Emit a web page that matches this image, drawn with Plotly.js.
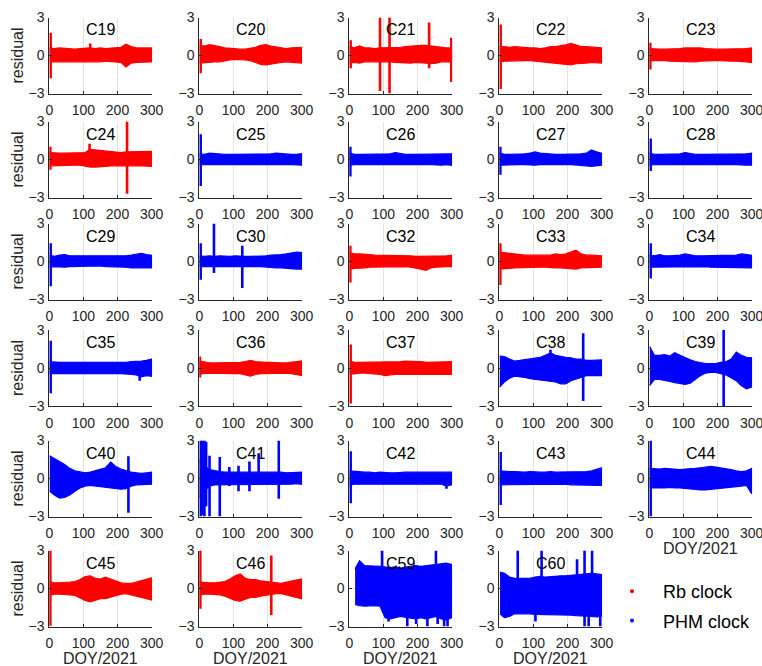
<!DOCTYPE html>
<html><head><meta charset="utf-8">
<script src="https://cdn.plot.ly/plotly-3.0.1.min.js"></script>
<style>html,body{margin:0;padding:0;background:#fff}#chart{width:762px;height:666px}</style>
</head><body><div id="chart"></div>
<script>
// ---------------- DATA ----------------
const doyGrid = [0,15,30,45,60,75,90,105,120,135,150,165,180,195,210,225,240,255,270,285,300];
const satNames = ['C19','C20','C21','C22','C23','C24','C25','C26','C27','C28','C29','C30','C32','C33','C34',
                  'C35','C36','C37','C38','C39','C40','C41','C42','C43','C44','C45','C46','C59','C60'];
const clockType = ['Rb','Rb','Rb','Rb','Rb','Rb','PHM','PHM','PHM','PHM','PHM','PHM','Rb','Rb','PHM',
                   'PHM','Rb','Rb','PHM','PHM','PHM','PHM','PHM','PHM','PHM','Rb','Rb','PHM','PHM'];
const dataStart = [1,1,1,1,1,1,1,1,1,1,1,1,1,1,1, 1,1,1,1,1,1,1,1,1,1,1,1,17,2];

// residual envelope (upper / lower) at doyGrid, and spikes [doy, low, high]
const hi_C19=[0.6,0.55,0.6,0.55,0.55,0.5,0.55,0.6,0.6,0.55,0.6,0.55,0.6,0.6,0.65,0.9,0.7,0.6,0.6,0.55,0.6];
const lo_C19=[-0.5,-0.5,-0.5,-0.5,-0.45,-0.5,-0.5,-0.5,-0.5,-0.5,-0.5,-0.45,-0.5,-0.5,-0.55,-0.9,-0.6,-0.55,-0.5,-0.5,-0.5];
const spk_C19=[[4,-1.8,1.8],[120,0,0.95]];

const hi_C20=[0.8,0.75,0.85,0.8,0.7,0.6,0.55,0.5,0.5,0.5,0.55,0.65,0.8,0.85,0.75,0.7,0.6,0.55,0.6,0.6,0.65];
const lo_C20=[-0.6,-0.55,-0.55,-0.5,-0.5,-0.45,-0.35,-0.3,-0.3,-0.35,-0.4,-0.55,-0.7,-0.75,-0.65,-0.6,-0.55,-0.5,-0.5,-0.55,-0.6];
const spk_C20=[[4,-1.4,1.3]];

const hi_C21=[0.7,0.6,0.75,0.6,0.6,0.55,0.6,0.6,0.6,0.6,0.65,0.7,0.75,0.8,0.8,0.8,0.75,0.65,0.6,0.6,0.6];
const lo_C21=[-0.6,-0.55,-0.6,-0.5,-0.5,-0.5,-0.5,-0.5,-0.5,-0.55,-0.55,-0.6,-0.6,-0.55,-0.55,-0.6,-0.65,-0.6,-0.5,-0.5,-0.5];
const spk_C21=[[4,-1.0,1.2],[90,-2.8,3],[118,-3,3],[234,-1.0,2.6],[299,-2.1,1.4]];

const hi_C22=[0.75,0.7,0.65,0.7,0.65,0.6,0.6,0.6,0.55,0.6,0.7,0.7,0.75,0.85,0.95,0.8,0.7,0.7,0.65,0.65,0.6];
const lo_C22=[-0.5,-0.45,-0.45,-0.45,-0.4,-0.4,-0.4,-0.4,-0.45,-0.5,-0.6,-0.65,-0.7,-0.7,-0.75,-0.65,-0.6,-0.6,-0.55,-0.55,-0.6];
const spk_C22=[[4,-2.65,2.45]];

const hi_C23=[0.55,0.5,0.5,0.5,0.5,0.5,0.55,0.6,0.6,0.65,0.6,0.55,0.5,0.5,0.5,0.5,0.5,0.5,0.55,0.55,0.6];
const lo_C23=[-0.4,-0.4,-0.4,-0.4,-0.45,-0.45,-0.45,-0.5,-0.5,-0.5,-0.45,-0.45,-0.4,-0.4,-0.4,-0.4,-0.45,-0.45,-0.45,-0.5,-0.55];
const spk_C23=[[3,-1.1,1.0]];

const hi_C24=[0.55,0.5,0.5,0.5,0.5,0.5,0.55,0.55,0.8,0.75,0.75,0.7,0.6,0.55,0.55,0.6,0.6,0.6,0.6,0.6,0.65];
const lo_C24=[-0.5,-0.45,-0.45,-0.45,-0.45,-0.45,-0.45,-0.5,-0.6,-0.6,-0.6,-0.55,-0.5,-0.45,-0.5,-0.5,-0.5,-0.5,-0.5,-0.5,-0.55];
const spk_C24=[[3,-0.8,1.0],[118,0,1.25],[228,-2.7,3]];

const hi_C25=[0.45,0.4,0.5,0.45,0.4,0.4,0.4,0.4,0.4,0.4,0.45,0.4,0.4,0.4,0.45,0.5,0.45,0.4,0.4,0.4,0.45];
const lo_C25=[-0.4,-0.4,-0.4,-0.4,-0.35,-0.35,-0.4,-0.35,-0.4,-0.4,-0.4,-0.35,-0.4,-0.35,-0.35,-0.4,-0.4,-0.4,-0.4,-0.4,-0.45];
const spk_C25=[[4,-2.1,2.0]];

const hi_C26=[0.5,0.4,0.4,0.4,0.4,0.4,0.4,0.4,0.45,0.55,0.45,0.4,0.4,0.4,0.4,0.4,0.4,0.4,0.4,0.4,0.45];
const lo_C26=[-0.45,-0.4,-0.4,-0.4,-0.4,-0.35,-0.4,-0.4,-0.4,-0.4,-0.4,-0.35,-0.4,-0.4,-0.4,-0.4,-0.4,-0.4,-0.45,-0.4,-0.45];
const spk_C26=[[3,-1.35,1.0]];

const hi_C27=[0.5,0.4,0.4,0.4,0.45,0.45,0.5,0.6,0.5,0.45,0.4,0.4,0.4,0.4,0.4,0.45,0.45,0.5,0.75,0.6,0.5];
const lo_C27=[-0.45,-0.4,-0.4,-0.4,-0.4,-0.4,-0.4,-0.45,-0.4,-0.4,-0.35,-0.35,-0.4,-0.4,-0.4,-0.4,-0.45,-0.5,-0.55,-0.5,-0.45];
const spk_C27=[[3,-1.2,1.0]];

const hi_C28=[0.5,0.4,0.4,0.4,0.4,0.4,0.45,0.55,0.45,0.4,0.4,0.4,0.4,0.4,0.4,0.45,0.45,0.45,0.45,0.45,0.5];
const lo_C28=[-0.45,-0.4,-0.35,-0.35,-0.4,-0.35,-0.4,-0.4,-0.4,-0.4,-0.4,-0.35,-0.4,-0.4,-0.4,-0.4,-0.4,-0.4,-0.4,-0.45,-0.45];
const spk_C28=[[4,-0.9,1.65]];

const hi_C29=[0.5,0.4,0.5,0.55,0.45,0.45,0.45,0.45,0.4,0.4,0.4,0.4,0.45,0.45,0.45,0.45,0.5,0.6,0.65,0.55,0.5];
const lo_C29=[-0.45,-0.4,-0.4,-0.45,-0.4,-0.4,-0.4,-0.4,-0.35,-0.35,-0.35,-0.4,-0.4,-0.4,-0.45,-0.45,-0.5,-0.55,-0.55,-0.5,-0.5];
const spk_C29=[[4,-1.95,1.45]];

const hi_C30=[0.45,0.4,0.45,0.4,0.45,0.4,0.4,0.45,0.4,0.4,0.4,0.4,0.45,0.45,0.5,0.5,0.55,0.6,0.65,0.75,0.7];
const lo_C30=[-0.4,-0.4,-0.4,-0.4,-0.4,-0.35,-0.35,-0.4,-0.4,-0.4,-0.4,-0.4,-0.4,-0.45,-0.45,-0.5,-0.5,-0.55,-0.55,-0.6,-0.6];
const spk_C30=[[4,-1.45,1.45],[43,-0.9,3],[126,-2.1,1.25]];

const hi_C32=[0.7,0.6,0.6,0.6,0.55,0.5,0.5,0.5,0.5,0.5,0.5,0.5,0.45,0.4,0.4,0.45,0.4,0.4,0.4,0.45,0.5];
const lo_C32=[-0.6,-0.55,-0.5,-0.5,-0.45,-0.45,-0.45,-0.45,-0.45,-0.4,-0.4,-0.4,-0.45,-0.5,-0.6,-0.7,-0.5,-0.45,-0.4,-0.4,-0.4];
const spk_C32=[[3,-1.65,1.25]];

const hi_C33=[0.75,0.7,0.6,0.6,0.55,0.5,0.5,0.5,0.5,0.5,0.5,0.6,0.55,0.6,0.75,0.9,0.6,0.5,0.5,0.45,0.45];
const lo_C33=[-0.6,-0.6,-0.55,-0.5,-0.5,-0.5,-0.45,-0.45,-0.45,-0.45,-0.45,-0.5,-0.5,-0.5,-0.55,-0.6,-0.5,-0.45,-0.45,-0.45,-0.45];
const spk_C33=[[3,-1.85,1.45]];

const hi_C34=[0.5,0.45,0.55,0.45,0.45,0.45,0.5,0.6,0.5,0.45,0.45,0.45,0.5,0.5,0.45,0.45,0.45,0.5,0.6,0.55,0.5];
const lo_C34=[-0.45,-0.4,-0.4,-0.45,-0.4,-0.4,-0.4,-0.45,-0.45,-0.4,-0.4,-0.4,-0.45,-0.45,-0.45,-0.45,-0.45,-0.45,-0.5,-0.5,-0.5];
const spk_C34=[[4,-1.35,1.45]];

const hi_C35=[0.5,0.45,0.45,0.45,0.45,0.45,0.45,0.45,0.4,0.4,0.45,0.45,0.45,0.45,0.45,0.45,0.5,0.5,0.55,0.6,0.7];
const lo_C35=[-0.45,-0.45,-0.45,-0.4,-0.4,-0.45,-0.45,-0.4,-0.4,-0.4,-0.45,-0.45,-0.45,-0.45,-0.45,-0.45,-0.5,-0.55,-0.7,-0.6,-0.65];
const spk_C35=[[4,-2.0,2.15],[265,-1.0,0]];

const hi_C36=[0.55,0.45,0.4,0.4,0.4,0.4,0.45,0.4,0.45,0.5,0.6,0.5,0.45,0.45,0.45,0.4,0.4,0.4,0.45,0.45,0.55];
const lo_C36=[-0.5,-0.4,-0.4,-0.4,-0.4,-0.4,-0.45,-0.45,-0.45,-0.55,-0.65,-0.5,-0.45,-0.45,-0.4,-0.4,-0.4,-0.4,-0.45,-0.5,-0.6];
const spk_C36=[[2,-0.75,0.9]];

const hi_C37=[0.55,0.45,0.45,0.45,0.45,0.45,0.45,0.45,0.45,0.5,0.5,0.55,0.55,0.5,0.5,0.45,0.45,0.45,0.45,0.45,0.5];
const lo_C37=[-0.5,-0.45,-0.4,-0.4,-0.45,-0.45,-0.5,-0.6,-0.55,-0.5,-0.5,-0.5,-0.45,-0.45,-0.45,-0.45,-0.45,-0.45,-0.45,-0.5,-0.5];
const spk_C37=[[4,-2.8,1.85]];

const hi_C38=[0.95,0.9,0.7,0.55,0.6,0.65,0.75,0.8,0.85,1.0,1.2,1.0,0.9,0.85,0.8,0.7,0.7,0.6,0.6,0.65,0.65];
const lo_C38=[-1.5,-1.1,-0.8,-0.65,-0.7,-0.75,-0.85,-0.95,-1.0,-1.0,-1.05,-1.1,-1.25,-1.25,-1.0,-0.85,-0.75,-0.6,-0.6,-0.6,-0.6];
const spk_C38=[[150,0,1.45],[246,-2.6,2.75]];

const hi_C39=[1.7,1.0,1.0,1.05,0.95,1.2,1.0,0.8,0.65,0.5,0.4,0.35,0.35,0.35,0.45,0.5,0.7,1.25,1.0,0.85,0.8];
const lo_C39=[-1.4,-0.9,-0.9,-0.95,-1.05,-1.15,-1.25,-1.3,-1.2,-0.9,-0.6,-0.4,-0.35,-0.35,-0.45,-0.55,-0.8,-1.0,-1.4,-1.65,-1.5];
const spk_C39=[[218,-3,3]];

const hi_C40=[1.8,1.6,1.35,1.1,0.8,0.6,0.5,0.45,0.5,0.6,0.7,0.85,1.3,0.95,0.75,0.6,0.5,0.45,0.4,0.45,0.5];
const lo_C40=[-1.0,-1.3,-1.55,-1.5,-1.3,-1.0,-0.75,-0.6,-0.55,-0.6,-0.65,-0.7,-0.75,-0.8,-0.85,-0.8,-0.6,-0.5,-0.45,-0.45,-0.45];
const spk_C40=[[232,-2.7,1.75]];

const hi_C41=[1.5,1.0,0.7,0.6,0.55,0.5,0.5,0.5,0.5,0.5,0.55,0.5,0.5,0.5,0.5,0.5,0.5,0.45,0.45,0.45,0.5];
const lo_C41=[-1.5,-1.0,-0.6,-0.5,-0.5,-0.45,-0.45,-0.45,-0.45,-0.45,-0.5,-0.45,-0.45,-0.45,-0.45,-0.45,-0.45,-0.45,-0.45,-0.4,-0.45];
const spk_C41=[[4,-3,3],[9,-2.9,3],[15,-3,3],[20,-2.2,2.9],[30,-3,1.8],[60,-3,1.7],[88,-0.6,0.9],[115,-1.0,1.0],[147,-1.0,1.35],[174,-0.5,2.0],[233,-1.6,3]];

const hi_C42=[0.6,0.55,0.55,0.5,0.5,0.45,0.5,0.45,0.45,0.45,0.5,0.5,0.5,0.5,0.45,0.45,0.45,0.45,0.5,0.45,0.5];
const lo_C42=[-0.5,-0.45,-0.4,-0.4,-0.4,-0.4,-0.4,-0.4,-0.45,-0.45,-0.45,-0.4,-0.4,-0.4,-0.4,-0.45,-0.4,-0.45,-0.45,-0.6,-0.5];
const spk_C42=[[4,-1.95,2.15],[285,-0.8,0]];

const hi_C43=[0.6,0.55,0.55,0.55,0.5,0.5,0.55,0.5,0.5,0.5,0.55,0.5,0.5,0.5,0.5,0.5,0.5,0.55,0.6,0.75,0.85];
const lo_C43=[-0.5,-0.45,-0.45,-0.45,-0.45,-0.45,-0.45,-0.45,-0.45,-0.5,-0.5,-0.45,-0.45,-0.45,-0.5,-0.5,-0.5,-0.5,-0.55,-0.55,-0.55];
const spk_C43=[[4,-2.1,2.1]];

const hi_C44=[0.8,0.75,0.75,0.8,0.75,0.7,0.7,0.75,0.75,0.8,0.85,0.9,0.95,0.9,0.85,0.75,0.7,0.6,0.55,0.6,0.8];
const lo_C44=[-0.75,-0.7,-0.75,-0.75,-0.7,-0.75,-0.75,-0.75,-0.8,-0.85,-0.9,-0.9,-0.9,-0.85,-0.8,-0.75,-0.7,-0.65,-0.6,-0.55,-1.2];
const spk_C44=[[4,-3,3]];

const hi_C45=[0.55,0.45,0.45,0.45,0.5,0.55,0.7,0.95,1.0,0.8,0.75,0.9,0.75,0.6,0.45,0.4,0.4,0.5,0.6,0.7,0.85];
const lo_C45=[-0.55,-0.45,-0.45,-0.45,-0.5,-0.55,-0.75,-0.95,-1.05,-0.9,-0.8,-0.8,-0.7,-0.55,-0.45,-0.4,-0.45,-0.55,-0.7,-0.8,-0.9];
const spk_C45=[[3,-2.95,3]];

const hi_C46=[0.5,0.45,0.45,0.45,0.5,0.55,0.75,1.0,1.15,0.8,0.7,0.7,0.6,0.55,0.45,0.4,0.4,0.5,0.6,0.7,0.75];
const lo_C46=[-0.5,-0.45,-0.45,-0.45,-0.5,-0.6,-0.75,-0.95,-1.0,-0.85,-0.7,-0.7,-0.6,-0.55,-0.45,-0.4,-0.4,-0.5,-0.6,-0.7,-0.8];
const spk_C46=[[3,-1.6,3],[211,-2.1,2.6]];

const hi_C59=[null,1.55,2.2,1.8,1.8,1.8,1.75,1.7,1.65,1.7,1.6,1.7,1.75,1.8,1.75,1.8,1.85,1.9,2.0,2.0,1.9];
const lo_C59=[null,-1.25,-1.35,-1.4,-1.4,-1.35,-1.4,-2.3,-2.4,-2.3,-2.2,-2.3,-2.35,-2.4,-2.3,-2.4,-2.3,-2.2,-2.4,-2.5,-2.3];
const spk_C59=[[96,0,3],[115,-2.6,0],[170,-3,0],[196,-2.8,0],[229,-3,0],[254,0,3],[259,-2.8,0],[278,-3,0],[288,-3,0]];

const hi_C60=[1.3,1.2,0.9,0.8,0.8,0.8,0.8,0.9,0.95,0.9,0.95,0.95,1.0,1.0,1.05,1.1,1.1,1.15,1.2,1.15,1.1];
const lo_C60=[-2.0,-2.3,-2.2,-2.0,-1.95,-2.0,-2.0,-2.05,-2.05,-2.05,-2.1,-2.05,-2.05,-2.1,-2.1,-2.15,-2.2,-2.2,-2.2,-2.25,-2.2];
const spk_C60=[[54,0,3],[106,-2.6,0],[124,0,3],[228,0,2.3],[250,-3,3],[262,-3,0],[272,0,3],[296,-3,0]];

const xTicks = [0,100,200,300];
const yTicks = [-3,0,3];
const xLabel = 'DOY/2021';
const yLabel = 'residual';
const legendNames = {Rb:'Rb clock', PHM:'PHM clock'};

const hiList=[hi_C19,hi_C20,hi_C21,hi_C22,hi_C23,hi_C24,hi_C25,hi_C26,hi_C27,hi_C28,hi_C29,hi_C30,hi_C32,hi_C33,hi_C34,
              hi_C35,hi_C36,hi_C37,hi_C38,hi_C39,hi_C40,hi_C41,hi_C42,hi_C43,hi_C44,hi_C45,hi_C46,hi_C59,hi_C60];
const loList=[lo_C19,lo_C20,lo_C21,lo_C22,lo_C23,lo_C24,lo_C25,lo_C26,lo_C27,lo_C28,lo_C29,lo_C30,lo_C32,lo_C33,lo_C34,
              lo_C35,lo_C36,lo_C37,lo_C38,lo_C39,lo_C40,lo_C41,lo_C42,lo_C43,lo_C44,lo_C45,lo_C46,lo_C59,lo_C60];
const spkList=[spk_C19,spk_C20,spk_C21,spk_C22,spk_C23,spk_C24,spk_C25,spk_C26,spk_C27,spk_C28,spk_C29,spk_C30,spk_C32,spk_C33,spk_C34,
               spk_C35,spk_C36,spk_C37,spk_C38,spk_C39,spk_C40,spk_C41,spk_C42,spk_C43,spk_C44,spk_C45,spk_C46,spk_C59,spk_C60];

// ---------------- LAYOUT / STYLE ----------------
const W = 762, H = 666;
const colX0 = [49.3, 199.3, 349.3, 499.3, 649.3];
const plotW = 103;
const rowTop = [17.5, 121.5, 223.5, 330, 440.5, 550.5];
const plotH = 76;
const colors = {Rb:'#ff0000', PHM:'#0000ff'};
const FONT = 'Liberation Sans, Arial, sans-serif';
const ink = '#262626';

const data = [];
const layout = {
  width: W, height: H,
  margin: {l:0, r:0, t:0, b:0},
  paper_bgcolor: '#ffffff', plot_bgcolor: '#ffffff',
  font: {family: FONT, size: 14, color: ink},
  showlegend: true,
  legend: {x: 601/W, y: 1 - 573/H, xanchor:'left', yanchor:'top',
           font:{size:18, color:'#000', family: FONT}, bgcolor:'rgba(0,0,0,0)',
           itemwidth: 52, tracegroupgap: 3},
  annotations: []
};

satNames.forEach((name, i) => {
  const r = Math.floor(i/5), c = i % 5;
  const xa = i === 0 ? 'x' : 'x' + (i+1);
  const ya = i === 0 ? 'y' : 'y' + (i+1);
  const xk = i === 0 ? 'xaxis' : 'xaxis' + (i+1);
  const yk = i === 0 ? 'yaxis' : 'yaxis' + (i+1);
  const col = colors[clockType[i]];
  const hi = hiList[i], lo = loList[i];
  const xs = [], ys = [];
  for (let k = 0; k < doyGrid.length; k++) {
    if (hi[k] !== null) { xs.push(Math.max(doyGrid[k], dataStart[i])); ys.push(hi[k]); }
  }
  for (let k = doyGrid.length - 1; k >= 0; k--) {
    if (lo[k] !== null) { xs.push(Math.max(doyGrid[k], dataStart[i])); ys.push(lo[k]); }
  }
  data.push({type:'scatter', mode:'lines', x: xs, y: ys, xaxis: xa, yaxis: ya,
             fill:'toself', fillcolor: col, line:{color: col, width: 1.2},
             hoverinfo:'skip', showlegend:false});
  const sx = [], sy = [];
  spkList[i].forEach(s => { sx.push(s[0], s[0], null); sy.push(s[1], s[2], null); });
  data.push({type:'scatter', mode:'lines', x: sx, y: sy, xaxis: xa, yaxis: ya,
             line:{color: col, width: 2.6}, hoverinfo:'skip', showlegend:false, cliponaxis:true});

  layout[xk] = {
    domain: [colX0[c]/W, (colX0[c]+plotW)/W], range: [0, 302], anchor: ya,
    tickvals: xTicks, ticktext: xTicks.map(String), showgrid: true, gridcolor: '#e3e3e3', gridwidth: 1,
    zeroline: false, showline: true, linecolor: ink, linewidth: 1, mirror: false,
    ticks: 'inside', ticklen: 3, tickcolor: ink, tickfont: {size: 14, color: ink, family: FONT},
    ticklabelstandoff: 4, ticklabeloverflow: 'allow', fixedrange: true
  };
  layout[yk] = {
    domain: [1 - (rowTop[r]+plotH)/H, 1 - rowTop[r]/H], range: [-3, 3], anchor: xa,
    tickvals: yTicks, ticktext: ['\u22123','0','3'], showgrid: true, gridcolor: '#e3e3e3', gridwidth: 1,
    zeroline: false, showline: true, linecolor: ink, linewidth: 1, mirror: false,
    ticks: 'inside', ticklen: 3, tickcolor: ink, tickfont: {size: 14, color: ink, family: FONT},
    ticklabelstandoff: 1, fixedrange: true
  };
  layout.annotations.push({text: name, xref: xa + ' domain', yref: ya + ' domain',
    x: 0.5, y: 1 - 12.5/plotH, xanchor:'center', yanchor:'middle', showarrow:false,
    font:{size:16, color:'#000', family: FONT}});
  if (c === 0) {
    layout.annotations.push({text: yLabel, xref:'paper', yref: ya + ' domain',
      x: 17/W, y: 0.5, xanchor:'center', yanchor:'middle', textangle:-90, showarrow:false,
      font:{size:16, color:ink, family: FONT}});
  }
  if (r === 5 || name === 'C44') {
    layout.annotations.push({text: xLabel, xref: xa + ' domain', yref: ya + ' domain',
      x: 0.5, y: -32/plotH, xanchor:'center', yanchor:'middle', showarrow:false,
      font:{size:16, color:ink, family: FONT}});
  }
});

// legend entries
['Rb','PHM'].forEach(t => {
  data.push({type:'scatter', mode:'markers', x:[null], y:[null], xaxis:'x', yaxis:'y',
             name: legendNames[t], legendgroup: t, marker:{color: colors[t], size: 4},
             showlegend: true, hoverinfo:'skip'});
});

Plotly.newPlot('chart', data, layout, {staticPlot: true, displayModeBar: false});
</script>
</body></html>
